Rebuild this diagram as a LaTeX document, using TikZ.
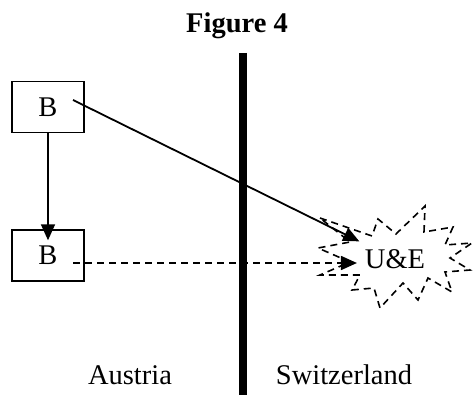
\documentclass[tikz,border=0pt]{standalone}
\usepackage{fontspec}
\setmainfont{Liberation Serif}
\usetikzlibrary{arrows.meta,positioning}

\begin{document}
\begin{tikzpicture}[x=1pt,y=-1pt,>={Triangle[length=16pt,width=14pt]},
                    font=\fontsize{28.5}{34}\selectfont,
                    box node/.style={rectangle,draw,line width=1.6pt,minimum width=72pt,minimum height=51pt},
                    link/.style={->,line width=1.8pt},
                    burst/.style={line width=1.6pt,dash pattern=on 7pt off 5pt}]
      \useasboundingbox (0,0) rectangle (473,395);

      \node[font=\fontsize{28.5}{34}\selectfont\bfseries,anchor=base] (title) at (237,33) {Figure 4};
      \node[box node] (b1) at (48,107) {B};
      \node[box node] (b2) [below=96pt of b1] {B};
      \node[inner sep=0pt,outer sep=8pt] (ue) at (395,259) {U\&E};
      \node[anchor=base] (austria) at (130,384) {Austria};
      \node[anchor=base] (swiss) at (344,384) {Switzerland};

      % border
      \coordinate (top) at (243,53);
      \coordinate (bottom) at (243,395);
      \draw[line width=8.5pt] (top) -- (bottom);

      % the burst round U&E
      \draw[burst] (320,218) -- (372,236) -- (378,219) -- (396,234) -- (425,206) -- (424,232)
        -- (453,227) -- (445,245) -- (472,243) -- (450,258) -- (470,270) -- (445,272)
        -- (452,292) -- (428,278) -- (418,300) -- (403,283) -- (380,308) -- (374,288)
        -- (352,290) -- (360,275) -- (320,275) -- (350,262) -- (318,248) -- (350,242) -- cycle;

      \coordinate (s1) at (73,100);
      \coordinate (s2) at (73,263);
      \draw[link] (b1) -- ([yshift=-11pt]b2.north);
      \draw[link] (s1) -- (ue);
      \draw[link,dash pattern=on 7pt off 5pt] (s2) -- (s2 -| ue.west);
\end{tikzpicture}
\end{document}
